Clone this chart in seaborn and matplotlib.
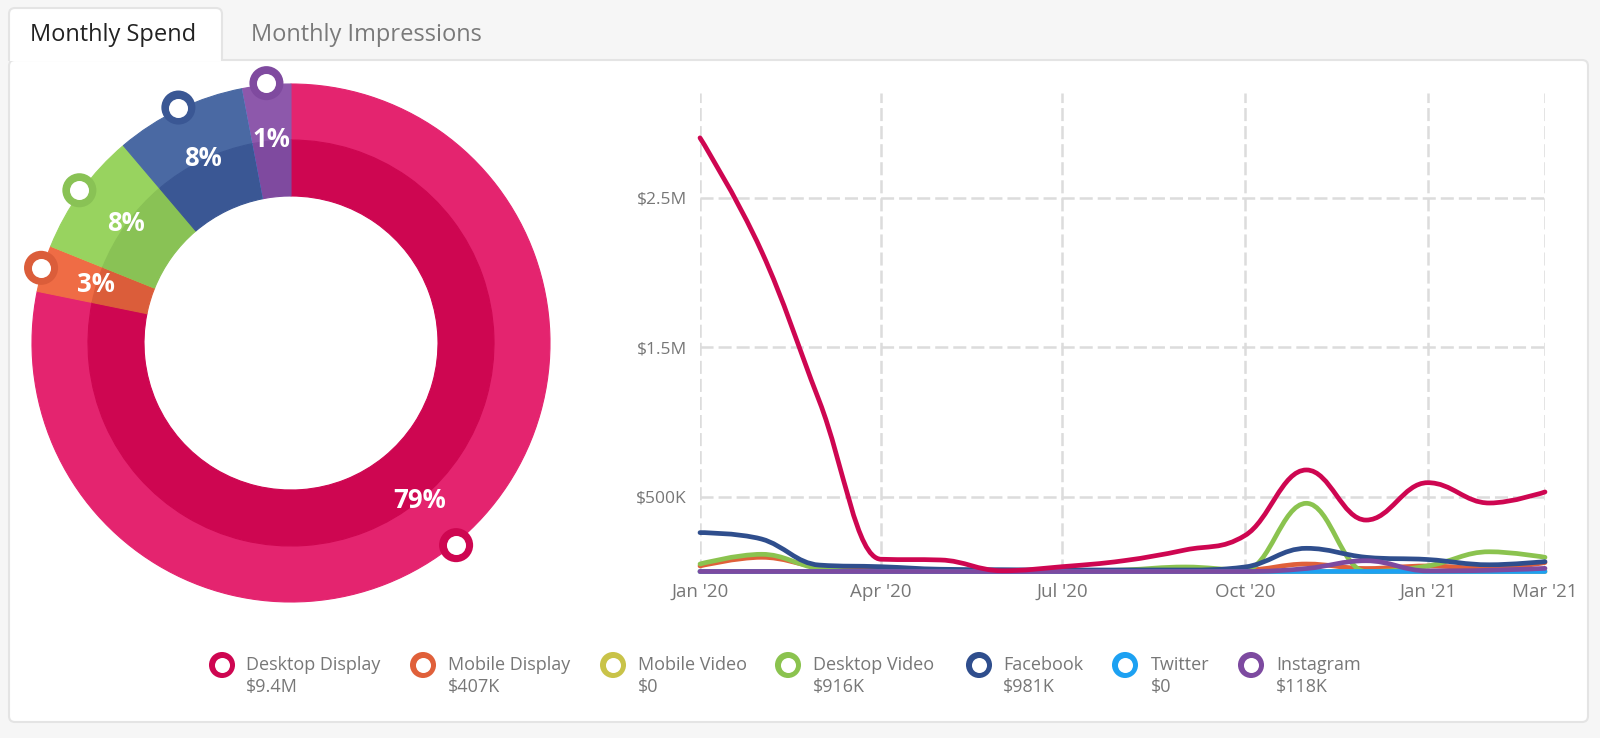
import numpy as np
import pandas as pd
import matplotlib
matplotlib.use("Agg")
import matplotlib.pyplot as plt
import matplotlib.dates as mdates
from matplotlib.path import Path
from matplotlib.patches import PathPatch, FancyBboxPatch
import seaborn as sns

# ---------------- data ----------------
categories = ["Desktop Display", "Mobile Display", "Mobile Video", "Desktop Video",
              "Facebook", "Twitter", "Instagram"]
spend_labels = ["$9.4M", "$407K", "$0", "$916K", "$981K", "$0", "$118K"]
share_pct = [78.2, 2.9, 0.0, 7.7, 8.2, 0.0, 3.0]          # donut slice sizes (as drawn)
share_labels = ["79%", "3%", "", "8%", "8%", "", "1%"]

month_start = "2020-01-01"
month_end = "2021-03-01"
# monthly spend, $M (Jan '20 ... Mar '21)
desktop_display = [2.90, 2.14, 1.14, 0.082, 0.077, 0.005, 0.032, 0.072, 0.144, 0.24,
                   0.679, 0.344, 0.594, 0.458, 0.532]
mobile_display = [0.037, 0.095, 0.03, 0.01, 0.005, 0.005, 0.005, 0.005, 0.01, 0.01,
                  0.05, 0.02, 0.037, 0.02, 0.06]
mobile_video = [0.0, 0.0, 0.0, 0.0, 0.0, 0.0, 0.0, 0.0, 0.0, 0.0, 0.0, 0.0, 0.0, 0.0, 0.0]
desktop_video = [0.05, 0.115, 0.02, 0.0, 0.0, 0.0, 0.0, 0.01, 0.03, 0.01,
                 0.456, 0.0, 0.037, 0.132, 0.095]
facebook = [0.26, 0.217, 0.043, 0.032, 0.015, 0.012, 0.01, 0.01, 0.01, 0.03,
            0.155, 0.095, 0.08, 0.045, 0.066]
twitter = [0.0, 0.0, 0.0, 0.0, 0.0, 0.0, 0.0, 0.0, 0.0, 0.0, 0.0, 0.0, 0.0, 0.0, 0.0]
instagram = [0.0, 0.0, 0.0, 0.0, 0.0, 0.0, 0.0, 0.0, 0.0, 0.0, 0.02, 0.072, 0.004, 0.008, 0.021]
series = [desktop_display, mobile_display, mobile_video, desktop_video, facebook, twitter, instagram]

x_tick_dates = ["2020-01-01", "2020-04-01", "2020-07-01", "2020-10-01", "2021-01-01", "2021-03-01"]
x_tick_labels = ["Jan '20", "Apr '20", "Jul '20", "Oct '20", "Jan '21", "Mar '21"]
y_ticks = [0.5, 1.5, 2.5]
y_tick_labels = ["$500K", "$1.5M", "$2.5M"]

# ---------------- style ----------------
line_colors = ["#CE0651", "#E0603A", "#C9C349", "#8BC34F", "#2F4E8D", "#1DA1F2", "#7D4AA0"]
outer_colors = ["#E4246F", "#EF6C45", "#D6D15A", "#98D35F", "#4A69A3", "#3AB0F5", "#8D58AB"]
inner_colors = ["#CE0651", "#DB5D3A", "#C9C349", "#89C255", "#3A5794", "#1DA1F2", "#7F4A9F"]

sns.set_theme(style="white")
plt.rcParams["font.family"] = ["Open Sans", "DejaVu Sans"]
plt.rcParams["lines.scale_dashes"] = False

W, H = 1600, 738
fig = plt.figure(figsize=(16, 7.38), dpi=100)
fig.patch.set_facecolor("#F6F6F6")


def frac(l, t, r, b):
    return [l / W, 1 - b / H, (r - l) / W, (b - t) / H]


# background / panel / tabs in pixel coordinates
bg = fig.add_axes([0, 0, 1, 1])
bg.set_xlim(0, W)
bg.set_ylim(H, 0)
bg.axis("off")
bg.set_zorder(0)
bg.add_patch(FancyBboxPatch((9, 60), 1579, 662, boxstyle="round,pad=0,rounding_size=6",
                            fc="white", ec="#E4E4E4", lw=1.5, zorder=1))
x0, y0, x1, y1, r = 9, 8, 222, 61, 6
tab = Path([(x0, y1), (x0, y0 + r), (x0, y0), (x0 + r, y0), (x1 - r, y0), (x1, y0), (x1, y0 + r), (x1, y1)],
           [Path.MOVETO, Path.LINETO, Path.CURVE3, Path.CURVE3, Path.LINETO, Path.CURVE3, Path.CURVE3, Path.LINETO])
bg.add_patch(PathPatch(tab, fc="white", ec="#E4E4E4", lw=1.5, zorder=2))
bg.text(30, 35, "Monthly Spend", fontsize=17, color="#222222", va="center", ha="left", zorder=3)
bg.text(251, 35, "Monthly Impressions", fontsize=17, color="#7A7A7A", va="center", ha="left", zorder=3)

# legend
legend_marker_x = [222, 423, 613, 788, 979, 1125, 1251]
legend_text_x = [246, 448, 638, 813, 1003, 1151, 1276]
sns.scatterplot(x=legend_marker_x, y=[665] * 7, hue=categories, palette=line_colors,
                s=26 ** 2 * 0.52, linewidth=0, legend=False, ax=bg, zorder=4)
sns.scatterplot(x=legend_marker_x, y=[665] * 7, color="white",
                s=15 ** 2 * 0.52, linewidth=0, legend=False, ax=bg, zorder=5)
for tx, name, val in zip(legend_text_x, categories, spend_labels):
    bg.text(tx, 665, name, fontsize=13, color="#777777", va="center", ha="left")
    bg.text(tx, 687, val, fontsize=13, color="#777777", va="center", ha="left")
bg.set_xlim(0, W)
bg.set_ylim(H, 0)

# ---------------- donut ----------------
dax = fig.add_axes(frac(11, 63, 571, 623))
dax.set_zorder(2)
dax.set_facecolor("none")
R_OUT, RING = 259, 56
w_out, _ = dax.pie(share_pct, radius=R_OUT, startangle=90, counterclock=False,
                   colors=outer_colors, wedgeprops=dict(width=RING, linewidth=0.8))
w_in, _ = dax.pie(share_pct, radius=R_OUT - RING, startangle=90, counterclock=False,
                  colors=inner_colors, wedgeprops=dict(width=RING, linewidth=0.8))
for w in list(w_out) + list(w_in):
    w.set_edgecolor(w.get_facecolor())

cum = np.cumsum([0] + share_pct[:-1])
mid_deg = 90 - 360 * (cum + np.array(share_pct) / 2) / 100
mid = np.deg2rad(mid_deg)
show = [i for i, v in enumerate(share_pct) if v > 0]
mx = [261 * np.cos(mid[i]) for i in show]
my = [261 * np.sin(mid[i]) for i in show]
sns.scatterplot(x=mx, y=my, hue=[categories[i] for i in show],
                palette=[inner_colors[i] for i in show], s=34 ** 2 * 0.52, linewidth=0,
                legend=False, ax=dax, zorder=5)
sns.scatterplot(x=mx, y=my, color="white", s=19 ** 2 * 0.52, linewidth=0,
                legend=False, ax=dax, zorder=6)
for i in show:
    dax.text(204 * np.cos(mid[i]), 204 * np.sin(mid[i]), share_labels[i], color="white",
             fontsize=18.5, fontweight="bold", ha="center", va="center", zorder=7)
dax.set_xlim(-280, 280)
dax.set_ylim(-280, 280)
dax.set_aspect("equal")
dax.axis("off")

# ---------------- line chart ----------------
ax = fig.add_axes(frac(700, 93, 1545, 571.5))
ax.set_zorder(2)
ax.set_facecolor("none")
months = pd.date_range(month_start, month_end, freq="MS")
xnum = mdates.date2num(months)


def spline_path(xs, ys, s=1.5):
    n = len(xs)
    lc = [(xs[i], ys[i]) for i in range(n)]
    rc = [(xs[i], ys[i]) for i in range(n)]
    d = s + 1
    for i in range(1, n - 1):
        px, py = xs[i], ys[i]
        lx, ly = xs[i - 1], ys[i - 1]
        nx, ny = xs[i + 1], ys[i + 1]
        lcx, lcy = (s * px + lx) / d, (s * py + ly) / d
        rcx, rcy = (s * px + nx) / d, (s * py + ny) / d
        if rcx != lcx:
            corr = ((rcy - lcy) * (rcx - px)) / (rcx - lcx) + py - rcy
            lcy += corr
            rcy += corr
        if lcy > max(ly, py):
            lcy = max(ly, py)
            rcy = 2 * py - lcy
        elif lcy < min(ly, py):
            lcy = min(ly, py)
            rcy = 2 * py - lcy
        if rcy > max(py, ny):
            rcy = max(py, ny)
            lcy = 2 * py - rcy
        elif rcy < min(py, ny):
            rcy = min(py, ny)
            lcy = 2 * py - rcy
        lc[i] = (lcx, lcy)
        rc[i] = (rcx, rcy)
    verts = [(xs[0], ys[0])]
    codes = [Path.MOVETO]
    for i in range(1, n):
        verts += [rc[i - 1], lc[i], (xs[i], ys[i])]
        codes += [Path.CURVE4] * 3
    return Path(verts, codes)


order = [1, 2, 3, 4, 5, 6, 0]
for z, k in enumerate(order):
    p = spline_path(list(xnum), list(series[k]))
    ax.add_patch(PathPatch(p, fill=False, edgecolor=line_colors[k], lw=3.4,
                           capstyle="round", joinstyle="round", clip_on=False, zorder=3 + z))

ax.set_xlim(mdates.date2num(pd.Timestamp(month_start)), mdates.date2num(pd.Timestamp(month_end)))
ax.set_ylim(0, 3.2)
ax.set_xticks(mdates.date2num(pd.to_datetime(x_tick_dates)))
ax.set_xticklabels(x_tick_labels)
ax.set_yticks(y_ticks)
ax.set_yticklabels(y_tick_labels)
ax.grid(True, color="#DCDCDC", lw=1.8, linestyle=(0, (9.4, 3.6)))
ax.set_axisbelow(True)
for sp in ax.spines.values():
    sp.set_visible(False)
ax.tick_params(axis="both", length=0, labelcolor="#777777")
ax.tick_params(axis="y", pad=9.4, labelsize=12.5)
ax.tick_params(axis="x", pad=8, labelsize=13.5)

fig.savefig("out.png", dpi=100, facecolor=fig.get_facecolor())
